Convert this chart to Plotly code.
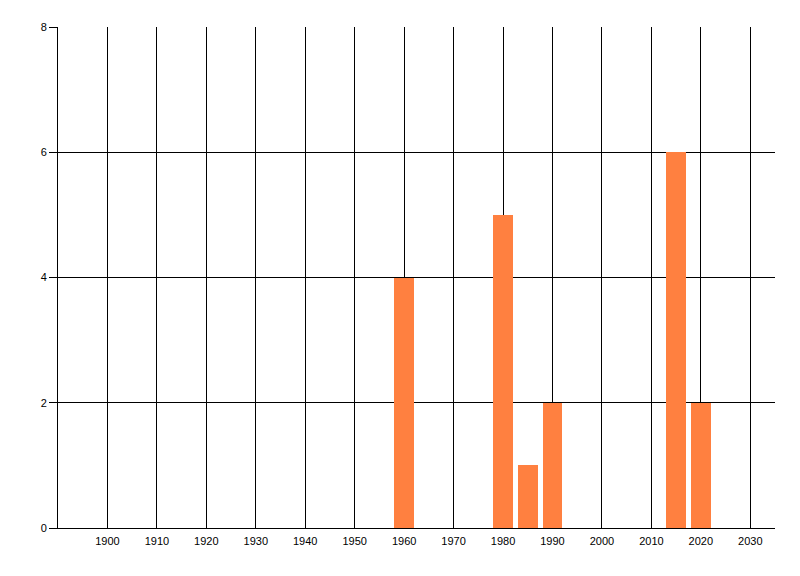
import plotly.graph_objects as go

years = [1960, 1980, 1985, 1990, 2015, 2020]
counts = [4, 5, 1, 2, 6, 2]
x_ticks = [1900, 1910, 1920, 1930, 1940, 1950, 1960, 1970, 1980, 1990, 2000, 2010, 2020, 2030]
x_labels = [str(v) for v in x_ticks]
y_ticks = [0, 2, 4, 6, 8]

fig = go.Figure()
fig.add_trace(go.Bar(x=years, y=counts, width=4, marker=dict(color="#FF8040", line=dict(width=0)),
                     showlegend=False))

font = dict(family="Liberation Sans, Arial, sans-serif", size=11, color="#000000")
fig.update_layout(
    width=800, height=576,
    margin=dict(l=50, r=33, t=19, b=56, autoexpand=False),
    paper_bgcolor="white", plot_bgcolor="white",
    font=font,
    bargap=0,
    xaxis=dict(range=[1890, 2035], tickmode="array", tickvals=x_ticks, ticktext=x_labels,
               showgrid=True, gridcolor="#000000", gridwidth=1,
               showline=True, linecolor="#000000", linewidth=1,
               ticks="outside", ticklen=3, tickcolor="rgba(0,0,0,0)",
               zeroline=False, tickfont=font),
    yaxis=dict(range=[0, 8], tickmode="array", tickvals=y_ticks,
               showgrid=True, gridcolor="#000000", gridwidth=1,
               showline=True, linecolor="#000000", linewidth=1,
               ticks="outside", ticklen=8, tickcolor="#000000",
               zeroline=False, tickfont=font),
)

fig.write_html("out.html")
